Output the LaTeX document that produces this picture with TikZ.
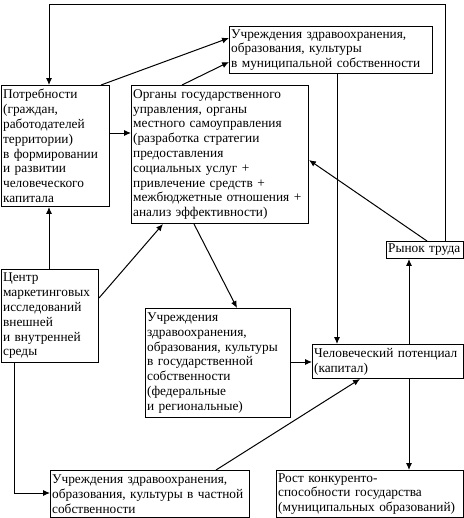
\documentclass[tikz,border=0pt]{standalone}
\usepackage{fontspec}
\setmainfont{Liberation Serif}
\usetikzlibrary{arrows.meta,calc}
\begin{document}
\begin{tikzpicture}[x=0.75pt,y=-0.75pt,
  box/.style={draw=black,line width=0.75pt,rectangle,inner xsep=1.2pt,inner ysep=0pt,
    align=left,anchor=north west,font=\fontsize{10pt}{11.1pt}\selectfont},
  arr/.style={draw=black,line width=0.75pt,-{Latex[length=5.2pt,width=4.5pt]}},
  ln/.style={draw=black,line width=0.75pt}]
\fill[white] (0,0) rectangle (464,518);
\useasboundingbox (0,0) rectangle (464,518);
% boxes
\node[box,minimum width=152.25pt,minimum height=35.25pt,text width=149.8pt] (mun) at (229,26)
 {Учреждения здравоохранения,\\образования, культуры\\в муниципальной собственности};
\node[box,minimum width=81pt,minimum height=90.75pt,text width=78.6pt] (pot) at (1,85)
 {Потребности\\(граждан,\\работодателей\\территории)\\в формировании\\и развитии\\человеческого\\капитала};
\node[box,minimum width=132.75pt,minimum height=103.5pt,text width=130.3pt] (org) at (131,85)
 {Органы государственного\\управления, органы\\местного самоуправления\\(разработка стратегии\\предоставления\\социальных услуг +\\привлечение средств +\\межбюджетные отношения +\\анализ эффективности)};
\node[box,minimum width=57.75pt,minimum height=12.75pt,text width=55.3pt] (rt) at (386,241)
 {Рынок труда};
\node[box,minimum width=72.75pt,minimum height=69.75pt,text width=70.3pt] (cen) at (1,269)
 {Центр\\маркетинговых\\исследований\\внешней\\и внутренней\\среды};
\node[box,minimum width=108.75pt,minimum height=81.75pt,text width=106.3pt] (gos) at (145,308)
 {Учреждения\\здравоохранения,\\образования, культуры\\в государственной\\собственности\\(федеральные\\и региональные)};
\node[box,minimum width=113.25pt,minimum height=25.5pt,text width=110.8pt] (hum) at (312,344)
 {Человеческий потенциал\\(капитал)};
\node[box,minimum width=149.25pt,minimum height=35.25pt,text width=146.8pt] (pri) at (50,470)
 {Учреждения здравоохранения,\\образования, культуры в частной\\собственности};
\node[box,minimum width=140.25pt,minimum height=35.25pt,text width=137.8pt] (rost) at (276,470)
 {Рост конкуренто-\\способности государства\\(муниципальных образований)};
% bend points
\coordinate (tr) at (445,4);
\coordinate (tl) at (49,4);
\coordinate (bl) at (14,493);
% connectors
\draw[arr] (rt.north -| tr) -- (tr) -- (tl) -- (pot.north -| tl);
\draw[arr] ($(pot.north east)+(-9,0)$) -- ($(mun.north west)+(0,12)$);
\draw[arr] ($(org.north west)+(51,0)$) -- ($(mun.north west)+(0,36)$);
\draw[arr] ($(pot.north east)+(0,48)$) -- ($(org.north west)+(0,48)$);
\draw[arr] ($(mun.south west)+(108,0)$) -- ($(hum.north west)+(25,0)$);
\draw[arr] ($(rt.north west)+(41,0)$) -- ($(org.north east)+(0,75)$);
\draw[arr] ($(cen.north west)+(48,0)$) -- ($(pot.south west)+(48,0)$);
\draw[arr] ($(cen.north east)+(0,29)$) -- ($(org.south west)+(32,0)$);
\draw[arr] ($(org.south west)+(63,0)$) -- ($(gos.north west)+(92,0)$);
\draw[arr] ($(gos.north east)+(0,54)$) -- ($(hum.north west)+(0,18)$);
\draw[arr] ($(pri.north west)+(166,0)$) -- ($(hum.south west)+(48,0)$);
\draw[arr] (cen.south -| bl) -- (bl) -- (pri.west |- bl);
\draw[arr] ($(hum.north west)+(97,0)$) -- ($(rt.south west)+(23,0)$);
\draw[arr] ($(hum.south west)+(97,0)$) -- ($(rost.north west)+(133,0)$);
\end{tikzpicture}
\end{document}
